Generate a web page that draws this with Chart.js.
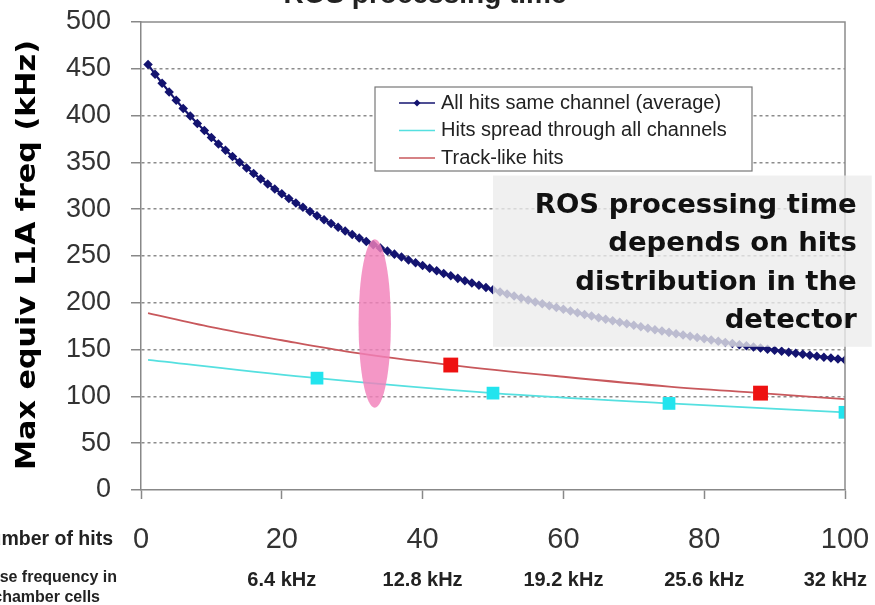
<!DOCTYPE html>
<html>
<head>
<meta charset="utf-8">
<script src="https://cdn.jsdelivr.net/npm/chart.js@4"></script>
<style>
  body { margin: 0; background: #fff; }
  canvas { display: block; }
</style>
</head>
<body>
<canvas id="myChart" width="875" height="605"></canvas>
<script>
// number of hits (x) for the "same channel" curve
const sameChannelHits = Array.from({ length: 100 }, (_, i) => i + 1);
const sameChannelFreq = [
  454.5, 444.3, 434.6, 425.3, 416.3, 407.7, 399.5, 391.6, 384.0, 376.7,
  369.7, 362.9, 356.4, 350.1, 344.0, 338.1, 332.4, 327.0, 321.6, 316.5,
  311.5, 306.7, 302.0, 297.5, 293.1, 288.8, 284.7, 280.6, 276.7, 272.9,
  269.2, 265.6, 262.1, 258.6, 255.3, 252.0, 248.9, 245.8, 242.8, 239.8,
  237.0, 234.2, 231.4, 228.8, 226.1, 223.6, 221.1, 218.7, 216.3, 213.9,
  211.6, 209.4, 207.2, 205.1, 203.0, 200.9, 198.9, 196.9, 195.0, 193.1,
  191.2, 189.4, 187.6, 185.8, 184.1, 182.4, 180.7, 179.1, 177.5, 175.9,
  174.4, 172.8, 171.3, 169.9, 168.4, 167.0, 165.6, 164.2, 162.9, 161.6,
  160.3, 159.0, 157.7, 156.5, 155.2, 154.0, 152.8, 151.7, 150.5, 149.4,
  148.3, 147.2, 146.1, 145.0, 143.9, 142.9, 141.9, 140.9, 139.9, 138.9
];

const spreadHits = [1, 25, 50, 75, 100];
const spreadFreq = [139, 119.5, 103.5, 92.5, 83];
const spreadMarked = [false, true, true, true, true];

const trackHits = [1, 10, 20, 30, 44, 60, 75, 88, 100];
const trackFreq = [189, 174, 160, 147, 133.5, 121, 110.5, 103.5, 97];
const trackMarked = [false, false, false, false, true, false, false, true, false];

const seriesNames = [
  'All hits same channel (average)',
  'Hits spread through all channels',
  'Track-like hits'
];

const noiseTicks = [20, 40, 60, 80, 100];
const noiseLabels = ['6.4 kHz', '12.8 kHz', '19.2 kHz', '25.6 kHz', '32 kHz'];

const noteLines = ['ROS processing time', 'depends on hits', 'distribution in the', 'detector'];

function pts(xs, ys) {
  return xs.map((x, i) => ({ x: x, y: ys[i] }));
}

const extras = {
  id: 'extras',
  afterDatasetsDraw(chart) {
    const c = chart.ctx;
    const xs = chart.scales.x, ys = chart.scales.y;
    const area = chart.chartArea;

    // frame top + right
    c.save();
    c.strokeStyle = '#8c8c8c';
    c.lineWidth = 1.5;
    c.beginPath();
    c.moveTo(area.left, area.top);
    c.lineTo(area.right, area.top);
    c.lineTo(area.right, area.bottom);
    c.stroke();
    c.restore();

    // pink ellipse highlight
    c.save();
    const ex = xs.getPixelForValue(33.2);
    const ey = ys.getPixelForValue(178);
    const rx = xs.getPixelForValue(35.5) - ex;
    const ry = ey - ys.getPixelForValue(268);
    c.fillStyle = 'rgba(242, 128, 186, 0.82)';
    c.beginPath();
    c.ellipse(ex, ey, rx, ry, 0, 0, Math.PI * 2);
    c.fill();
    c.restore();

    // note box
    c.save();
    const bx1 = xs.getPixelForValue(50), bx2 = xs.getPixelForValue(103.8);
    const by1 = ys.getPixelForValue(336), by2 = ys.getPixelForValue(153);
    c.fillStyle = 'rgba(236, 236, 236, 0.78)';
    c.fillRect(bx1, by1, bx2 - bx1, by2 - by1);
    c.font = 'bold 27px "DejaVu Sans"';
    c.fillStyle = '#111';
    c.textAlign = 'right';
    c.textBaseline = 'alphabetic';
    const sx = 322 / c.measureText(noteLines[0]).width;
    const tx = bx2 - 15;
    c.translate(tx, 0);
    c.scale(sx, 1);
    noteLines.forEach((t, i) => {
      c.fillText(t, 0, by1 + 37 + i * 38.5);
    });
    c.restore();

    // legend
    c.save();
    const lx = 375, ly = 87, lw = 377, lh = 84;
    c.fillStyle = '#fff';
    c.fillRect(lx, ly, lw, lh);
    c.strokeStyle = '#777';
    c.lineWidth = 1.2;
    c.strokeRect(lx, ly, lw, lh);
    c.font = '20px "Liberation Sans"';
    c.textBaseline = 'middle';
    chart.data.datasets.forEach((ds, i) => {
      const yy = ly + 16 + i * 27.5;
      c.strokeStyle = ds.borderColor;
      c.lineWidth = 1.5;
      c.beginPath();
      c.moveTo(lx + 24, yy);
      c.lineTo(lx + 60, yy);
      c.stroke();
      if (i === 0) {
        c.fillStyle = ds.borderColor;
        c.beginPath();
        c.moveTo(lx + 42, yy - 3.5);
        c.lineTo(lx + 45.5, yy);
        c.lineTo(lx + 42, yy + 3.5);
        c.lineTo(lx + 38.5, yy);
        c.closePath();
        c.fill();
      }
      c.fillStyle = '#222';
      c.fillText(ds.label, lx + 66, yy);
    });
    c.restore();
  },
  afterDraw(chart) {
    const c = chart.ctx;
    const xs = chart.scales.x;
    c.save();
    // cut-off title at the top
    c.font = 'bold 28px "Liberation Sans"';
    c.fillStyle = '#222';
    c.textAlign = 'center';
    c.textBaseline = 'alphabetic';
    c.fillText('ROS processing time', 425, 3);

    // y axis title
    c.save();
    c.translate(28, 255);
    c.rotate(-Math.PI / 2);
    c.font = 'bold 27px "DejaVu Sans"';
    const title = 'Max equiv L1A freq (kHz)';
    const s = 430 / c.measureText(title).width;
    c.scale(s, 1);
    c.textAlign = 'center';
    c.textBaseline = 'middle';
    c.fillStyle = '#000';
    c.fillText(title, 0, 0);
    c.restore();

    // left labels of the x axis rows
    c.font = 'bold 19.5px "Liberation Sans"';
    c.fillStyle = '#222';
    c.textAlign = 'right';
    c.textBaseline = 'middle';
    c.fillText('Number of hits', 113, 540);
    c.font = 'bold 16px "Liberation Sans"';
    c.fillText('Noise frequency in', 117, 578);
    c.fillText('chamber cells', 100, 598);

    // noise frequency row
    c.font = 'bold 20px "Liberation Sans"';
    c.textAlign = 'center';
    noiseTicks.forEach((v, i) => {
      const w = c.measureText(noiseLabels[i]).width;
      const cx = Math.min(xs.getPixelForValue(v), chart.width - 8 - w / 2);
      c.fillText(noiseLabels[i], cx, 580);
    });
    c.restore();
  }
};

new Chart(document.getElementById('myChart'), {
  type: 'line',
  data: {
    datasets: [{
      label: seriesNames[0],
      data: pts(sameChannelHits, sameChannelFreq),
      borderColor: '#141470',
      backgroundColor: '#141470',
      borderWidth: 2.2,
      pointStyle: 'rectRot',
      pointRadius: 3.2,
      tension: 0
    }, {
      label: seriesNames[1],
      data: pts(spreadHits, spreadFreq),
      borderColor: '#55e0e0',
      backgroundColor: '#22e4ee',
      borderWidth: 1.8,
      pointStyle: 'rect',
      pointRadius: spreadMarked.map(m => m ? 9 : 0),
      pointBorderWidth: 0,
      cubicInterpolationMode: 'monotone'
    }, {
      label: seriesNames[2],
      data: pts(trackHits, trackFreq),
      borderColor: '#c8585c',
      backgroundColor: '#ee1111',
      borderWidth: 1.8,
      pointStyle: 'rect',
      pointRadius: trackMarked.map(m => m ? 10.5 : 0),
      pointBorderWidth: 0,
      cubicInterpolationMode: 'monotone'
    }]
  },
  options: {
    responsive: false,
    animation: false,
    layout: { padding: { top: 22, right: 30, left: 0, bottom: 0 } },
    plugins: { legend: { display: false }, tooltip: { enabled: false } },
    scales: {
      x: {
        type: 'linear',
        min: 0,
        max: 100,
        ticks: {
          stepSize: 20,
          maxRotation: 0,
          padding: 24,
          color: '#333',
          font: { family: 'Liberation Sans', size: 29 }
        },
        grid: { drawOnChartArea: false, tickLength: 9, tickColor: '#888', tickWidth: 1.5 },
        border: { color: '#888', width: 1.5 },
        afterFit(s) { s.height = 115; s.paddingLeft = 0; s.paddingRight = 0; }
      },
      y: {
        min: 0,
        max: 500,
        ticks: {
          stepSize: 50,
          padding: 20,
          color: '#333',
          font: { family: 'Liberation Sans', size: 27 }
        },
        grid: {
          color: c => (c.tick && (c.tick.value === 0 || c.tick.value === 500)) ? 'rgba(0,0,0,0)' : '#8c8c8c',
          lineWidth: 1.5,
          tickLength: 10,
          tickColor: '#888',
          tickWidth: 1.5
        },
        border: { color: '#888', width: 1.5, dash: [3, 3] },
        afterFit(s) { s.width = 141; s.paddingTop = 0; s.paddingBottom = 0; }
      }
    }
  },
  plugins: [extras]
});
</script>
</body>
</html>
